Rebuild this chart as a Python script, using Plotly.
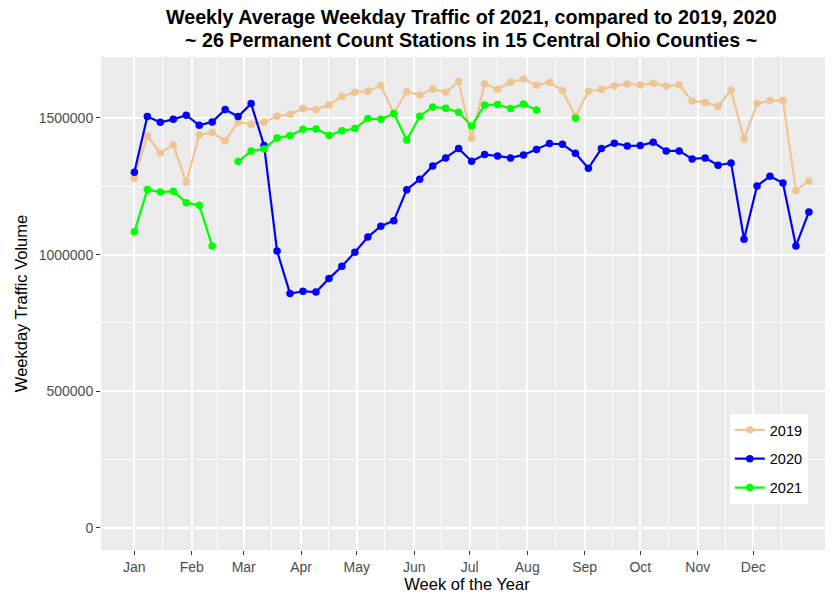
"""Weekly average weekday traffic, 2019-2021, Central Ohio count stations."""

from __future__ import annotations

import datetime as dt

import plotly.graph_objects as go


WEEKS = list(range(1, 54))

TRAFFIC_2019 = [
    1279500, 1434000, 1372000, 1401000, 1263600, 1438000, 1446500, 1417000,
    1485600, 1477000, 1485600, 1506000, 1513600, 1534400, 1530700, 1547800,
    1578300, 1594200, 1597800, 1618500, 1517300, 1596500, 1584300, 1606300,
    1594200, 1633000, 1425800, 1624600, 1605100, 1630800, 1642900, 1619800,
    1630800, 1600100, 1505000, 1598000, 1603800, 1617300, 1624600, 1621000,
    1627100, 1616200, 1621000, 1562400, 1557000, 1543000, 1601500, 1422200,
    1552500, 1563500, 1563500, 1234200, 1269700,
]

TRAFFIC_2020 = [
    1301500, 1505000, 1484000, 1495000, 1510000, 1473000, 1485600, 1530800,
    1505000, 1552500, 1399000, 1013500, 857400, 866000, 863000, 912300,
    957400, 1008700, 1064800, 1103900, 1124400, 1237800, 1275900, 1324600,
    1353800, 1387900, 1341700, 1366000, 1361100, 1353800, 1364800, 1384300,
    1406200, 1403800, 1371000, 1316000, 1387900, 1407600, 1397700, 1398900,
    1411300, 1379400, 1379400, 1350200, 1353800, 1327100, 1335500, 1056300,
    1251400, 1286700, 1262400, 1031800, 1156200,
]

# 2021 only runs through August, with a few weeks missing
TRAFFIC_2021 = [
    1084000, 1238000, 1229000, 1232000, 1190000, 1180600, 1031800, None,
    1340400, 1379400, 1386800, 1427000, 1435500, 1458700, 1460000, 1436800,
    1453100, 1461000, 1497600, 1495400, 1516000, 1419700, 1506400, 1540400,
    1535600, 1521000, 1470900, 1547800, 1549000, 1534200, 1551400, 1529500,
    None, None, 1499000,
] + [None] * 18

SERIES = [
    ("2019", TRAFFIC_2019, "#EEC591"),
    ("2020", TRAFFIC_2020, "#0000FF"),
    ("2021", TRAFFIC_2021, "#00FF00"),
]

MONTH_LABELS = ["Jan", "Feb", "Mar", "Apr", "May", "Jun",
                "Jul", "Aug", "Sep", "Oct", "Nov", "Dec"]

Y_TICKS = [0, 500000, 1000000, 1500000]
Y_MINOR = [250000, 750000, 1250000]

TITLE_LINES = [
    "Weekly Average Weekday Traffic of 2021, compared to 2019, 2020",
    "~ 26 Permanent Count Stations in 15 Central Ohio Counties ~",
]

FONT = "Liberation Sans, Arial, sans-serif"
START = dt.date(2021, 1, 1)


def week_dates(weeks):
    return [START + dt.timedelta(days=7 * (w - 1)) for w in weeks]


month_starts = [dt.date(2021, m, 1) for m in range(1, 13)] + [dt.date(2022, 1, 1)]
month_mids = [a + (b - a) / 2 for a, b in zip(month_starts[:-1], month_starts[1:])]

fig = go.Figure()
x = week_dates(WEEKS)
for name, values, color in SERIES:
    fig.add_trace(
        go.Scatter(
            x=x,
            y=values,
            name=name,
            legendgroup=name,
            mode="lines+markers",
            line=dict(color=color, width=2.2),
            marker=dict(color=color, size=7.5),
            connectgaps=False,
        )
    )

# two-line bold title, centred over the panel
for text, ypos in zip(TITLE_LINES, [1.081, 1.0345]):
    fig.add_annotation(
        text=f"<b>{text}</b>",
        x=0.5055,
        y=ypos,
        xref="paper",
        yref="paper",
        xanchor="center",
        yanchor="middle",
        showarrow=False,
        font=dict(size=19.7, family=FONT, color="black"),
    )

# page body has an 8px margin, so the figure is 8px smaller than the window
fig.update_layout(
    width=825,
    height=586,
    margin=dict(l=93, r=0, t=49, b=44),
    paper_bgcolor="white",
    plot_bgcolor="#EBEBEB",
    font=dict(family=FONT, color="#000000"),
    legend=dict(
        x=0.859,
        y=0.276,
        xanchor="left",
        yanchor="top",
        bgcolor="white",
        font=dict(size=14.5, color="black"),
        tracegroupgap=7,
        itemwidth=30,
    ),
    showlegend=True,
)

fig.update_xaxes(
    range=[START - dt.timedelta(days=18.4), dt.date(2021, 12, 31) + dt.timedelta(days=13.5)],
    tickvals=month_starts[:-1],
    ticktext=MONTH_LABELS,
    ticks="outside",
    ticklen=4,
    tickcolor="#333333",
    tickfont=dict(size=14, color="#4D4D4D"),
    showgrid=True,
    gridcolor="white",
    gridwidth=1.5,
    minor=dict(tickvals=month_mids, showgrid=True, gridcolor="white", gridwidth=0.7, ticks=""),
    zeroline=False,
    automargin=False,
    title=dict(text="Week of the Year", font=dict(size=16.5), standoff=4),
)

fig.update_yaxes(
    range=[-80500, 1723000],
    tickvals=Y_TICKS,
    tickformat="d",
    ticks="outside",
    ticklen=4,
    tickcolor="#333333",
    tickfont=dict(size=14, color="#4D4D4D"),
    showgrid=True,
    gridcolor="white",
    gridwidth=1.5,
    minor=dict(tickvals=Y_MINOR, showgrid=True, gridcolor="white", gridwidth=0.7, ticks=""),
    zeroline=False,
    automargin=False,
    title=dict(text="Weekday Traffic Volume", font=dict(size=16.5), standoff=6),
)

fig.write_html("out.html")
